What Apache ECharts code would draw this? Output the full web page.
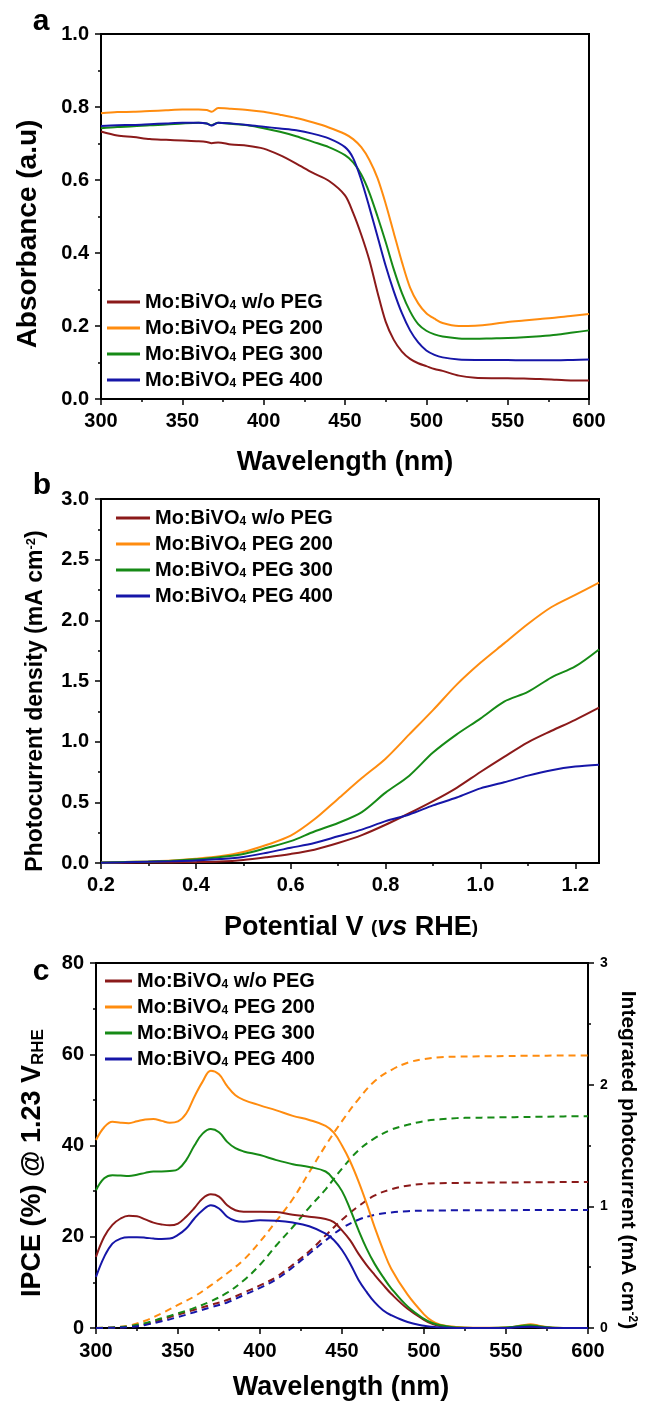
<!DOCTYPE html>
<html>
<head>
<meta charset="utf-8">
<script src="https://cdn.jsdelivr.net/npm/echarts@6/dist/echarts.min.js"></script>
<style>
  html, body { margin: 0; padding: 0; background: #fff; }
  #chart { width: 646px; height: 1408px; }
</style>
</head>
<body>
<div id="chart"></div>
<script>
// Sample names and colours shared by the three panels
const sampleNames = ['Mo:BiVO4 w/o PEG', 'Mo:BiVO4 PEG 200', 'Mo:BiVO4 PEG 300', 'Mo:BiVO4 PEG 400'];
const sampleColors = ['#8B1A1A', '#FF8C0F', '#168A16', '#1616A8'];

// (a) UV-vis absorbance
const absWavelength = [300, 310, 320, 330, 340, 350, 360, 365, 368, 372, 380, 390, 400, 410, 420, 430, 440, 450, 455, 460, 465, 470, 475, 480, 485, 490, 495, 500, 505, 510, 520, 530, 540, 550, 560, 570, 580, 590, 600];
const absWoPEG  = [0.733, 0.722, 0.718, 0.712, 0.710, 0.708, 0.706, 0.704, 0.701, 0.703, 0.697, 0.694, 0.686, 0.668, 0.645, 0.620, 0.598, 0.558, 0.510, 0.450, 0.380, 0.292, 0.212, 0.162, 0.130, 0.110, 0.098, 0.090, 0.082, 0.077, 0.064, 0.058, 0.057, 0.057, 0.056, 0.055, 0.053, 0.051, 0.051];
const absPEG200 = [0.783, 0.786, 0.787, 0.789, 0.791, 0.793, 0.793, 0.792, 0.787, 0.797, 0.795, 0.792, 0.787, 0.779, 0.770, 0.758, 0.744, 0.726, 0.712, 0.690, 0.655, 0.605, 0.535, 0.455, 0.375, 0.305, 0.262, 0.235, 0.220, 0.208, 0.200, 0.201, 0.205, 0.211, 0.215, 0.219, 0.223, 0.228, 0.233];
const absPEG300 = [0.742, 0.745, 0.747, 0.750, 0.752, 0.755, 0.757, 0.755, 0.750, 0.757, 0.754, 0.750, 0.742, 0.732, 0.720, 0.705, 0.690, 0.668, 0.648, 0.615, 0.565, 0.500, 0.430, 0.355, 0.290, 0.240, 0.205, 0.187, 0.177, 0.171, 0.166, 0.165, 0.166, 0.167, 0.169, 0.172, 0.176, 0.182, 0.188];
const absPEG400 = [0.748, 0.750, 0.751, 0.753, 0.755, 0.757, 0.757, 0.755, 0.749, 0.757, 0.755, 0.751, 0.746, 0.741, 0.736, 0.727, 0.714, 0.690, 0.660, 0.600, 0.525, 0.445, 0.365, 0.295, 0.235, 0.188, 0.155, 0.133, 0.121, 0.114, 0.108, 0.107, 0.107, 0.107, 0.106, 0.106, 0.106, 0.107, 0.108];

// (b) photocurrent density vs potential
const potential = [0.20, 0.25, 0.30, 0.35, 0.40, 0.45, 0.50, 0.55, 0.60, 0.65, 0.70, 0.75, 0.80, 0.85, 0.90, 0.95, 1.00, 1.05, 1.10, 1.15, 1.20, 1.25];
const jWoPEG  = [0.002, 0.003, 0.004, 0.005, 0.007, 0.012, 0.025, 0.048, 0.075, 0.110, 0.165, 0.230, 0.315, 0.410, 0.510, 0.620, 0.750, 0.875, 0.995, 1.090, 1.180, 1.280];
const jPEG200 = [0.004, 0.008, 0.013, 0.020, 0.035, 0.055, 0.090, 0.150, 0.225, 0.360, 0.530, 0.700, 0.860, 1.060, 1.260, 1.470, 1.650, 1.810, 1.970, 2.110, 2.210, 2.310];
const jPEG300 = [0.004, 0.008, 0.012, 0.018, 0.030, 0.048, 0.075, 0.125, 0.180, 0.260, 0.330, 0.420, 0.580, 0.720, 0.910, 1.060, 1.190, 1.330, 1.410, 1.530, 1.620, 1.760];
const jPEG400 = [0.003, 0.006, 0.010, 0.014, 0.020, 0.032, 0.050, 0.085, 0.125, 0.165, 0.220, 0.275, 0.345, 0.400, 0.475, 0.540, 0.615, 0.665, 0.720, 0.765, 0.795, 0.810];

// (c) IPCE spectra
const ipceWavelength = [300, 305, 310, 315, 320, 325, 330, 335, 340, 345, 350, 355, 360, 365, 370, 375, 380, 385, 390, 400, 410, 420, 430, 440, 445, 450, 455, 460, 465, 470, 475, 480, 490, 500, 505, 510, 520, 530, 540, 550, 555, 560, 565, 570, 575, 580, 590, 600];
const ipceWoPEG  = [15.6, 20.0, 22.6, 24.0, 24.6, 24.5, 23.8, 23.1, 22.7, 22.5, 22.9, 24.4, 26.3, 28.4, 29.3, 28.8, 26.9, 25.8, 25.5, 25.5, 25.4, 24.8, 24.4, 23.9, 23.2, 21.4, 19.2, 16.3, 13.8, 11.6, 9.5, 7.5, 4.2, 1.8, 0.9, 0.4, 0.05, 0, 0, 0.05, 0.2, 0.3, 0.35, 0.2, 0.1, 0, 0, 0];
const ipcePEG200 = [41.2, 44.0, 45.2, 45.0, 44.9, 45.3, 45.7, 45.8, 45.4, 45.0, 45.3, 47.0, 50.7, 54.0, 56.4, 55.6, 53.0, 51.0, 50.0, 48.8, 47.7, 46.5, 45.6, 44.3, 42.8, 40.0, 36.5, 32.2, 27.3, 22.0, 17.2, 13.0, 7.3, 3.0, 1.5, 0.7, 0.2, 0.05, 0.05, 0.1, 0.3, 0.6, 0.8, 0.5, 0.2, 0.05, 0, 0];
const ipcePEG300 = [30.2, 32.8, 33.5, 33.4, 33.3, 33.6, 34.0, 34.3, 34.3, 34.4, 34.8, 36.8, 40.0, 42.6, 43.6, 42.9, 40.8, 39.4, 38.7, 37.9, 36.8, 35.9, 35.3, 34.3, 32.5, 30.0, 26.0, 21.5, 17.4, 14.0, 11.2, 8.7, 4.7, 2.0, 1.1, 0.6, 0.1, 0, 0, 0.1, 0.3, 0.5, 0.6, 0.4, 0.15, 0.05, 0, 0];
const ipcePEG400 = [11.2, 15.6, 18.5, 19.6, 19.9, 19.9, 19.8, 19.6, 19.5, 19.6, 20.4, 21.8, 24.0, 25.8, 26.9, 26.2, 24.4, 23.5, 23.3, 23.6, 23.5, 23.1, 22.3, 20.7, 19.3, 17.1, 14.1, 10.6, 7.9, 5.6, 3.9, 2.8, 1.3, 0.5, 0.25, 0.1, 0, 0, 0, 0, 0.1, 0.2, 0.25, 0.15, 0.05, 0, 0, 0];

// (c) integrated photocurrent (right axis)
const intWavelength = [300, 310, 320, 330, 340, 350, 360, 370, 380, 390, 400, 410, 420, 430, 440, 450, 460, 470, 480, 490, 500, 510, 520, 530, 540, 550, 560, 570, 580, 590, 600];
const intWoPEG  = [0, 0.003, 0.010, 0.030, 0.070, 0.110, 0.150, 0.190, 0.230, 0.290, 0.350, 0.420, 0.520, 0.630, 0.760, 0.890, 1.000, 1.090, 1.140, 1.170, 1.185, 1.190, 1.192, 1.194, 1.195, 1.196, 1.197, 1.198, 1.199, 1.200, 1.200];
const intPEG200 = [0, 0.005, 0.020, 0.060, 0.120, 0.190, 0.260, 0.350, 0.450, 0.560, 0.710, 0.880, 1.060, 1.280, 1.500, 1.700, 1.880, 2.030, 2.120, 2.180, 2.210, 2.225, 2.230, 2.232, 2.234, 2.235, 2.237, 2.238, 2.239, 2.240, 2.240];
const intPEG300 = [0, 0.004, 0.015, 0.040, 0.080, 0.120, 0.165, 0.220, 0.290, 0.390, 0.520, 0.680, 0.830, 0.990, 1.140, 1.310, 1.460, 1.560, 1.630, 1.670, 1.700, 1.715, 1.725, 1.728, 1.730, 1.732, 1.734, 1.736, 1.738, 1.740, 1.740];
const intPEG400 = [0, 0.002, 0.008, 0.025, 0.055, 0.090, 0.130, 0.170, 0.210, 0.270, 0.330, 0.400, 0.500, 0.610, 0.720, 0.820, 0.890, 0.930, 0.950, 0.960, 0.965, 0.966, 0.967, 0.967, 0.968, 0.968, 0.969, 0.969, 0.970, 0.970, 0.970];

// Tick values
const wavelengthTicks = { min: 300, max: 600, interval: 50 };
const potentialMajorTicks = [0.2, 0.4, 0.6, 0.8, 1.0, 1.2];
const potentialMinorTicks = [0.3, 0.5, 0.7, 0.9, 1.1];

const FONT = '"Liberation Sans", Arial, sans-serif';
const BLACK = '#000';

const pairs = (xs, ys) => xs.map((x, i) => [x, ys[i]]);

function valueAxis(gridIndex, opts) {
  return {
    type: 'value',
    gridIndex: gridIndex,
    position: opts.position,
    min: opts.min, max: opts.max, interval: opts.interval,
    axisLine: { show: true, onZero: false, lineStyle: { color: BLACK, width: 2 } },
    axisTick: Object.assign({ show: true, inside: false, length: 6, lineStyle: { color: BLACK, width: 1.5 } }, opts.tick || {}),
    minorTick: { show: opts.minor !== false, splitNumber: 2, length: 3, lineStyle: { color: BLACK, width: 1.5 } },
    splitLine: { show: false },
    minorSplitLine: { show: false },
    axisLabel: Object.assign({
      show: true, color: BLACK, fontFamily: FONT, fontWeight: 'bold', fontSize: 20, margin: 12,
      formatter: opts.fmt
    }, opts.label || {})
  };
}

function lineSeries(name, xIdx, yIdx, data, color, dashed, smooth) {
  return {
    name: name, type: 'line', xAxisIndex: xIdx, yAxisIndex: yIdx,
    data: data, showSymbol: false, symbol: 'none', smooth: smooth, animation: false,
    itemStyle: { color: color },
    lineStyle: { color: color, width: 2, type: dashed ? [7, 5] : 'solid' },
    z: dashed ? 2 : 3
  };
}

function legendAt(left, top, lineW) {
  return {
    data: sampleNames, left: left, top: top, orient: 'vertical', padding: 0,
    icon: 'rect', itemWidth: lineW, itemHeight: 3, itemGap: 6, selectedMode: false,
    formatter: n => n.replace('BiVO4', 'BiVO{s|4}'),
    textStyle: {
      fontFamily: FONT, fontWeight: 'bold', fontSize: 20, color: BLACK, lineHeight: 20,
      rich: { s: { fontFamily: FONT, fontWeight: 'bold', fontSize: 12, lineHeight: 12, color: BLACK, verticalAlign: 'bottom' } }
    }
  };
}

function label(text, x, y, size, rot, rich) {
  return {
    type: 'text', x: x, y: y, rotation: rot || 0, silent: true,
    style: {
      text: text, fill: BLACK, font: 'bold ' + size + 'px ' + FONT,
      align: 'center', verticalAlign: 'middle', rich: rich || {}
    }
  };
}

const fmt1 = v => v.toFixed(1);
const fmt0 = v => String(Math.round(v));

const frame = { show: true, borderColor: BLACK, borderWidth: 2, backgroundColor: 'transparent' };

const option = {
  backgroundColor: '#fff',
  animation: false,
  grid: [
    Object.assign({ left: 101, top: 34, width: 488, height: 365 }, frame),
    Object.assign({ left: 101, top: 499, width: 498, height: 364 }, frame),
    Object.assign({ left: 96, top: 963, width: 492, height: 365 }, frame)
  ],
  xAxis: [
    valueAxis(0, { position: 'bottom', min: wavelengthTicks.min, max: wavelengthTicks.max, interval: wavelengthTicks.interval, fmt: fmt0 }),
    valueAxis(1, { position: 'bottom', min: 0.2, max: 1.25, minor: false, fmt: fmt1,
      tick: { customValues: potentialMajorTicks }, label: { customValues: potentialMajorTicks } }),
    Object.assign(valueAxis(1, { position: 'bottom', min: 0.2, max: 1.25, minor: false,
      tick: { customValues: potentialMinorTicks, length: 3 }, label: { show: false } }), { axisLine: { show: false } }),
    valueAxis(2, { position: 'bottom', min: wavelengthTicks.min, max: wavelengthTicks.max, interval: wavelengthTicks.interval, fmt: fmt0, label: { margin: 13 } })
  ],
  yAxis: [
    valueAxis(0, { position: 'left', min: 0, max: 1.0, interval: 0.2, fmt: fmt1 }),
    valueAxis(1, { position: 'left', min: 0, max: 3.0, interval: 0.5, fmt: fmt1 }),
    valueAxis(2, { position: 'left', min: 0, max: 80, interval: 20, fmt: fmt0 }),
    valueAxis(2, { position: 'right', min: 0, max: 3, interval: 1, fmt: fmt0, label: { fontSize: 14, margin: 12 } })
  ],
  legend: [legendAt(107, 292, 33), legendAt(116, 508, 34), legendAt(105, 971, 27)],
  series: [
    // (a)
    lineSeries(sampleNames[0], 0, 0, pairs(absWavelength, absWoPEG), sampleColors[0], false, 0.3),
    lineSeries(sampleNames[1], 0, 0, pairs(absWavelength, absPEG200), sampleColors[1], false, 0.3),
    lineSeries(sampleNames[2], 0, 0, pairs(absWavelength, absPEG300), sampleColors[2], false, 0.3),
    lineSeries(sampleNames[3], 0, 0, pairs(absWavelength, absPEG400), sampleColors[3], false, 0.3),
    // (b)
    lineSeries(sampleNames[0], 1, 1, pairs(potential, jWoPEG), sampleColors[0], false, 0.3),
    lineSeries(sampleNames[1], 1, 1, pairs(potential, jPEG200), sampleColors[1], false, 0.3),
    lineSeries(sampleNames[2], 1, 1, pairs(potential, jPEG300), sampleColors[2], false, 0.3),
    lineSeries(sampleNames[3], 1, 1, pairs(potential, jPEG400), sampleColors[3], false, 0.3),
    // (c) IPCE, left axis
    lineSeries(sampleNames[0], 3, 2, pairs(ipceWavelength, ipceWoPEG), sampleColors[0], false, 0.4),
    lineSeries(sampleNames[1], 3, 2, pairs(ipceWavelength, ipcePEG200), sampleColors[1], false, 0.4),
    lineSeries(sampleNames[2], 3, 2, pairs(ipceWavelength, ipcePEG300), sampleColors[2], false, 0.4),
    lineSeries(sampleNames[3], 3, 2, pairs(ipceWavelength, ipcePEG400), sampleColors[3], false, 0.4),
    // (c) integrated photocurrent, right axis
    lineSeries('Integrated w/o PEG', 3, 3, pairs(intWavelength, intWoPEG), sampleColors[0], true, 0.4),
    lineSeries('Integrated PEG 200', 3, 3, pairs(intWavelength, intPEG200), sampleColors[1], true, 0.4),
    lineSeries('Integrated PEG 300', 3, 3, pairs(intWavelength, intPEG300), sampleColors[2], true, 0.4),
    lineSeries('Integrated PEG 400', 3, 3, pairs(intWavelength, intPEG400), sampleColors[3], true, 0.4)
  ],
  graphic: [
    label('a', 41, 22, 30),
    label('b', 42, 486, 30),
    label('c', 41, 972, 30),
    label('Absorbance (a.u)', 28, 234, 28, Math.PI / 2),
    label('Wavelength (nm)', 345, 463, 27),
    label('Photocurrent density (mA cm{sup|-2})', 36, 701, 23, Math.PI / 2,
      { sup: { fontFamily: FONT, fontWeight: 'bold', fontSize: 13, verticalAlign: 'top', lineHeight: 12, fill: BLACK } }),
    label('Potential V {p|(}{i|vs}{n| RHE}{p|)}', 351, 928, 27, 0, {
      p: { fontFamily: FONT, fontWeight: 'bold', fontSize: 19, fill: BLACK },
      i: { fontFamily: FONT, fontWeight: 'bold', fontStyle: 'italic', fontSize: 27, fill: BLACK },
      n: { fontFamily: FONT, fontWeight: 'bold', fontSize: 27, fill: BLACK }
    }),
    label('IPCE (%) @ 1.23 V{sub|RHE}', 33, 1163, 27, Math.PI / 2,
      { sub: { fontFamily: FONT, fontWeight: 'bold', fontSize: 17, verticalAlign: 'bottom', lineHeight: 14, fill: BLACK } }),
    label('Integrated photocurrent (mA cm{sup|-2})', 628, 1160, 21, -Math.PI / 2,
      { sup: { fontFamily: FONT, fontWeight: 'bold', fontSize: 12, verticalAlign: 'top', lineHeight: 11, fill: BLACK } }),
    label('Wavelength (nm)', 341, 1388, 27)
  ]
};

const chart = echarts.init(document.getElementById('chart'), null, { renderer: 'canvas', width: 646, height: 1408 });
chart.setOption(option);
</script>
</body>
</html>
